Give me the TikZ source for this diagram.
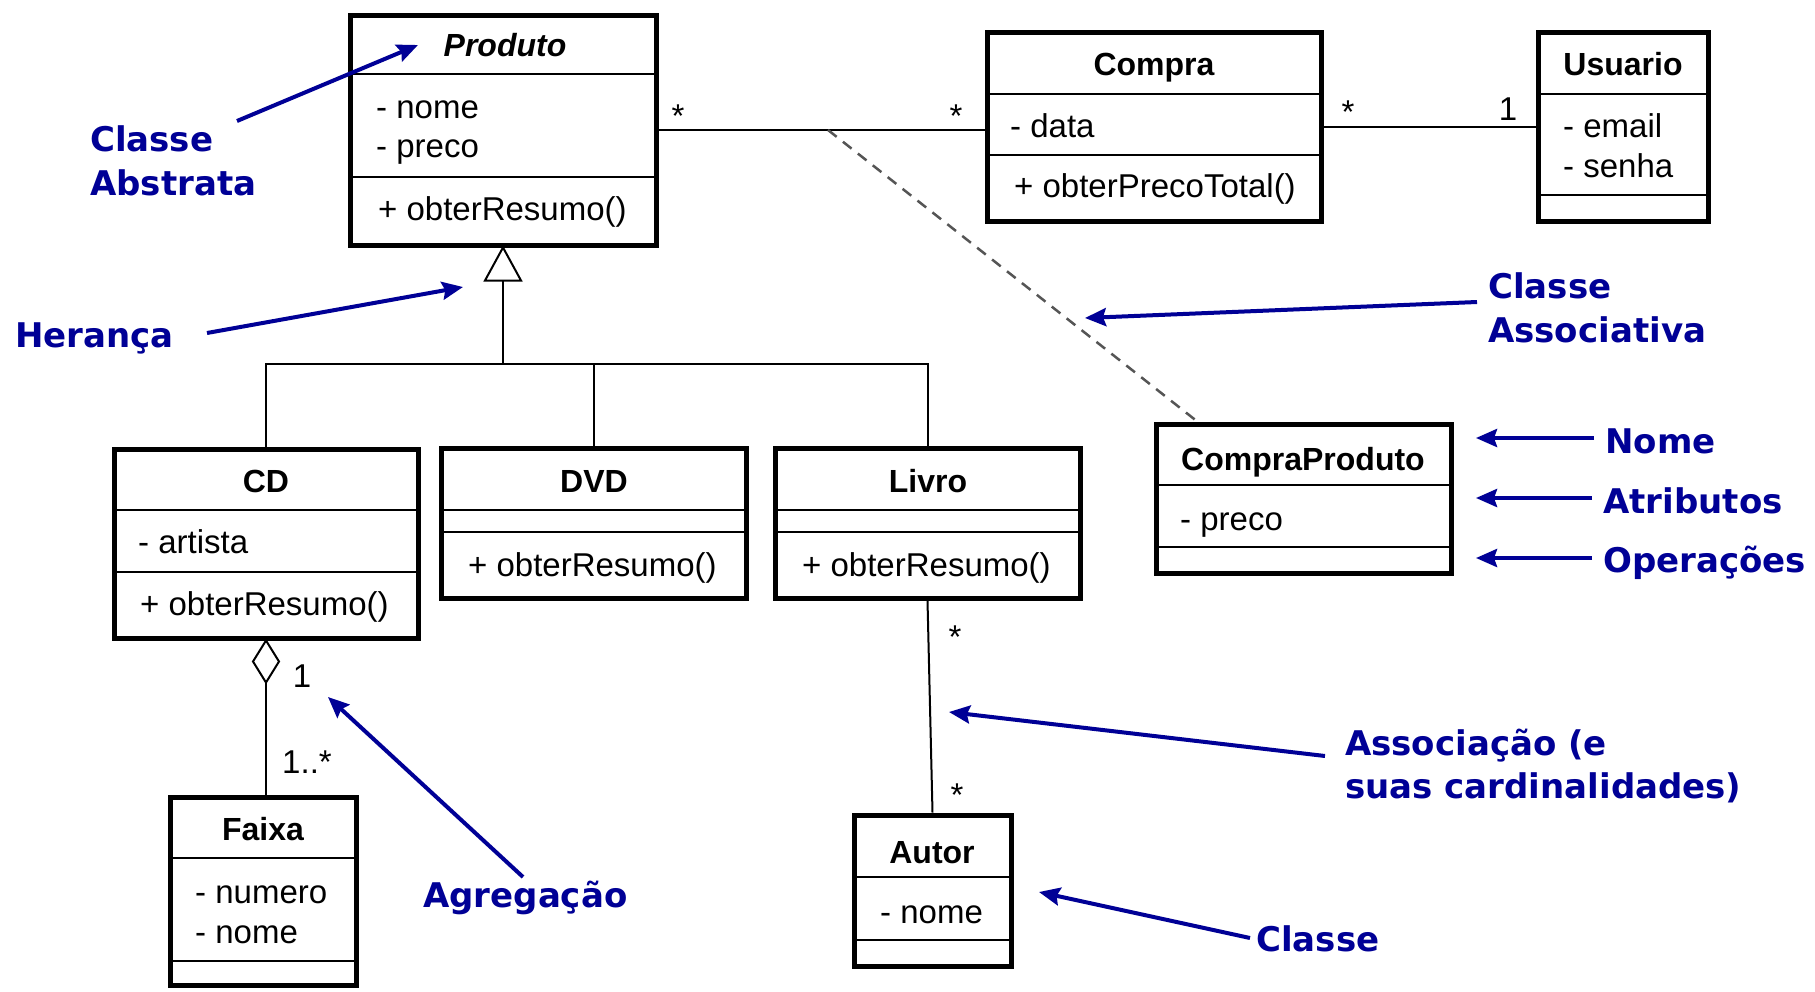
\documentclass[tikz,border=0pt]{standalone}
\usepackage{fontspec}
\setmainfont{Liberation Sans}
\newfontfamily\notefont{DejaVu Sans}
\usetikzlibrary{arrows.meta,calc}
\definecolor{noteblue}{RGB}{0,0,150}
\definecolor{dashgray}{RGB}{85,85,85}

\tikzset{
  classbox/.style={draw=black, line width=5pt, fill=white, inner sep=0pt},
  sepline/.style={line width=2pt},
  conn/.style={line width=2pt},
  assocdash/.style={draw=dashgray, line width=2.5pt, dash pattern=on 11pt off 8pt},
  cname/.style={font=\fontsize{32}{38}\selectfont\bfseries, anchor=base, inner sep=0pt},
  member/.style={font=\fontsize{33}{40}\selectfont, anchor=base west, inner sep=0pt},
  mult/.style={font=\fontsize{33}{40}\selectfont, anchor=base, inner sep=0pt},
  note/.style={font=\notefont\bfseries\fontsize{34}{44}\selectfont, text=noteblue, anchor=base west, inner sep=0pt},
  pointer/.style={draw=noteblue, line width=4pt, -{Stealth[length=21pt,width=18pt,inset=3pt]}},
}

% class box: name, left, top, right, bottom, first and second compartment line
\newcommand{\umlclass}[7]{%
  \node[classbox, minimum width={#4-#2}, minimum height={#5-#3}] (#1) at ({(#2+#4)/2},{(#3+#5)/2}) {};
  \draw[sepline] (#2,#6) -- (#4,#6);
  \draw[sepline] (#2,#7) -- (#4,#7);
}

\begin{document}
\begin{tikzpicture}[x=1pt,y=-1pt]
\useasboundingbox[fill=white] (0,0) rectangle (1815,991);

% ---- classes ----
\umlclass{produto}{350}{15}{656}{245}{74}{177}
\node[cname, font=\fontsize{32}{38}\selectfont\bfseries\itshape] (produto-name) at (505,56) {Produto};
\node[member] (produto-a1) at (376,118) {- nome};
\node[member] (produto-a2) at (376,157) {- preco};
\node[member] (produto-o1) at (378,220) {+ obterResumo()};

\umlclass{compra}{987}{32}{1321}{221}{94}{155}
\node[cname] (compra-name) at (1154,75) {Compra};
\node[member] (compra-a1) at (1010,137) {- data};
\node[member] (compra-o1) at (1014,197) {+ obterPrecoTotal()};

\umlclass{usuario}{1538}{32}{1708}{221}{94}{195}
\node[cname] (usuario-name) at (1623,75) {Usuario};
\node[member] (usuario-a1) at (1563,137) {- email};
\node[member] (usuario-a2) at (1563,177) {- senha};

\umlclass{cp}{1156}{424}{1451}{573}{485}{547}
\node[cname] (cp-name) at (1303,470) {CompraProduto};
\node[member] (cp-a1) at (1180,530) {- preco};

\umlclass{cd}{114}{449}{418}{638}{510}{572}
\node[cname] (cd-name) at (266,492) {CD};
\node[member] (cd-a1) at (138,553) {- artista};
\node[member] (cd-o1) at (140,615) {+ obterResumo()};

\umlclass{dvd}{441}{448}{746}{598}{510}{532}
\node[cname] (dvd-name) at (594,492) {DVD};
\node[member] (dvd-o1) at (468,576) {+ obterResumo()};

\umlclass{livro}{775}{448}{1080}{598}{510}{532}
\node[cname] (livro-name) at (928,492) {Livro};
\node[member] (livro-o1) at (802,576) {+ obterResumo()};

\umlclass{faixa}{170}{797}{356}{985}{858}{961}
\node[cname] (faixa-name) at (263,840) {Faixa};
\node[member] (faixa-a1) at (195,903) {- numero};
\node[member] (faixa-a2) at (195,943) {- nome};

\umlclass{autor}{854}{815}{1011}{966}{877}{940}
\node[cname] (autor-name) at (932,863) {Autor};
\node[member] (autor-a1) at (880,923) {- nome};

% ---- associations ----
\draw[conn] (produto.east) -- (compra.west |- produto.east);
\draw[conn] (compra.east) -- (usuario.west);
\coordinate (assocmid) at ($(produto.east)!0.52!(compra.west |- produto.east)$);
\coordinate (cptop) at ($(cp.north west)!0.146!(cp.north east)$);
\draw[assocdash] (assocmid) -- (cptop);

\node[mult] (m-pc1) at (678,127) {*};
\node[mult] (m-pc2) at (956,127) {*};
\node[mult] (m-cu1) at (1348,123) {*};
\node[mult] (m-cu2) at (1508,120) {1};

% ---- generalisation ----
\draw[conn, fill=white] (produto.south) -- ++(-18,33) -- ++(36,0) -- cycle;
\coordinate (tribase) at ($(produto.south)+(0,33)$);
\coordinate (gen) at ($(produto.south)+(0,116)$);
\draw[conn] (tribase) -- (gen);
\draw[conn] (cd.north) |- (gen) -| (livro.north);
\draw[conn] (dvd.north) -- (dvd.north |- gen);

% ---- aggregation CD <>-- Faixa ----
\draw[conn, fill=white] (cd.south) -- ++(13,21) -- ++(-13,21) -- ++(-13,-21) -- cycle;
\coordinate (aggbot) at ($(cd.south)+(0,42)$);
\draw[conn] (aggbot) -- (aggbot |- faixa.north);
\node[mult] (m-cf1) at (302,687) {1};
\node[mult] (m-cf2) at (307,773) {1..*};

% ---- Livro -- Autor ----
\draw[conn] (livro.south) -- (autor.north);
\node[mult] (m-la1) at (955,648) {*};
\node[mult] (m-la2) at (957,806) {*};

% ---- annotations ----
\node[note] (n-ca1) at (90,151) {Classe};
\node[note] (n-ca2) at (90,195) {Abstrata};
\coordinate (p-ca-from) at (237,121);
\coordinate (p-ca-to) at (418,45);
\draw[pointer] (p-ca-from) -- (p-ca-to);

\node[note] (n-her) at (15,347) {Herança};
\coordinate (p-her-from) at (207,333);
\coordinate (p-her-to) at (463,287);
\draw[pointer] (p-her-from) -- (p-her-to);

\node[note] (n-cas1) at (1488,298) {Classe};
\node[note] (n-cas2) at (1488,342) {Associativa};
\coordinate (p-cas-from) at (1477,302);
\coordinate (p-cas-to) at (1085,318);
\draw[pointer] (p-cas-from) -- (p-cas-to);

\node[note] (n-nome) at (1605,453) {Nome};
\node[note] (n-atr) at (1603,513) {Atributos};
\node[note] (n-op) at (1603,572) {Operações};
\coordinate (p-nome-from) at (1594,438);
\coordinate (p-nome-to) at (1476,438);
\coordinate (p-atr-from) at (1592,498);
\coordinate (p-atr-to) at (1476,498);
\coordinate (p-op-from) at (1592,558);
\coordinate (p-op-to) at (1476,558);
\draw[pointer] (p-nome-from) -- (p-nome-to);
\draw[pointer] (p-atr-from) -- (p-atr-to);
\draw[pointer] (p-op-from) -- (p-op-to);

\node[note] (n-as1) at (1345,755) {Associação (e};
\node[note] (n-as2) at (1345,798) {suas cardinalidades)};
\coordinate (p-as-from) at (1325,756);
\coordinate (p-as-to) at (949,712);
\draw[pointer] (p-as-from) -- (p-as-to);

\node[note] (n-agg) at (423,907) {Agregação};
\coordinate (p-agg-from) at (523,877);
\coordinate (p-agg-to) at (328,697);
\draw[pointer] (p-agg-from) -- (p-agg-to);

\node[note] (n-cls) at (1256,951) {Classe};
\coordinate (p-cls-from) at (1250,938);
\coordinate (p-cls-to) at (1039,892);
\draw[pointer] (p-cls-from) -- (p-cls-to);
\end{tikzpicture}
\end{document}
